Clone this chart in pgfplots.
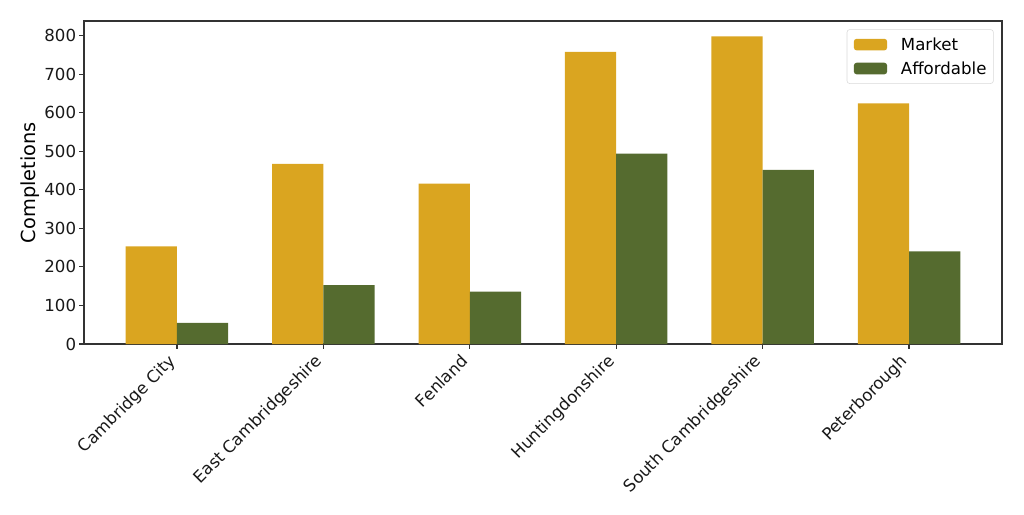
\documentclass[border=0pt]{standalone}
\usepackage{pgfplots}
\pgfplotsset{compat=1.18}
\usepackage{fontspec}
\setmainfont{DejaVu Sans}
\definecolor{mkt}{HTML}{DAA520}
\definecolor{aff}{HTML}{556B2F}
\pgfplotstableread{
x market affordable
0 253 55
1 467 153
2 416 136
3 758 494
4 798 452
5 624 240
}\datatable
\begin{document}
\begin{tikzpicture}
\begin{axis}[
  at={(0,0)}, anchor=south west,
  scale only axis, width=9.18in, height=3.23in,
  xmin=-0.635, xmax=5.635, ymin=0, ymax=838,
  xtick={0,1,2,3,4,5},
  xticklabels={Cambridge City, East Cambridgeshire, Fenland, Huntingdonshire, South Cambridgeshire, Peterborough},
  ytick={0,100,...,800},
  tick pos=left, tick align=outside, major tick length=3.5pt,
  every tick/.style={black!80, line width=0.8pt},
  axis line style={black!80, line width=0.8pt},
  /pgf/number format/assume math mode=true,
  ticklabel style={font=\fontsize{12}{14.4}\selectfont, text=black!90},
  xticklabel style={xshift=-7pt, yshift=-1.5pt, rotate=45, anchor=north east, inner sep=1pt},
  yticklabel style={inner sep=2pt},
  ylabel={Completions},
  ylabel style={font=\fontsize{14}{16.8}\selectfont, at={(axis description cs:-0.0588,0.5)}, anchor=center},
  legend cell align=left,
  legend style={at={(1,1)}, anchor=north east, xshift=-6pt, yshift=-6pt,
    draw=black!15, rounded corners=2pt, fill=white,
    font=\fontsize{12}{14.4}\selectfont,
    inner xsep=5pt, inner ysep=2.2pt, row sep=0pt,
    nodes={inner sep=0pt, text height=13.05pt, text depth=4.25pt, anchor=base west},
    /tikz/every odd column/.append style={column sep=10pt}},
]
\addplot[ybar, bar width=0.35, bar shift=-0.175, fill=mkt, draw=none,
  legend image code/.code={\fill[mkt] (0pt,0.2pt) rectangle (24pt,8.6pt);}]
  table[x=x, y=market] {\datatable};
\addlegendentry{Market}
\addplot[ybar, bar width=0.35, bar shift=0.175, fill=aff, draw=none,
  legend image code/.code={\fill[aff] (0pt,0.2pt) rectangle (24pt,8.6pt);}]
  table[x=x, y=affordable] {\datatable};
\addlegendentry{Affordable}
\end{axis}
\pgfresetboundingbox
\path[use as bounding box] (-0.84in,-1.71in) rectangle (9.40in,3.44in);
\end{tikzpicture}
\end{document}
